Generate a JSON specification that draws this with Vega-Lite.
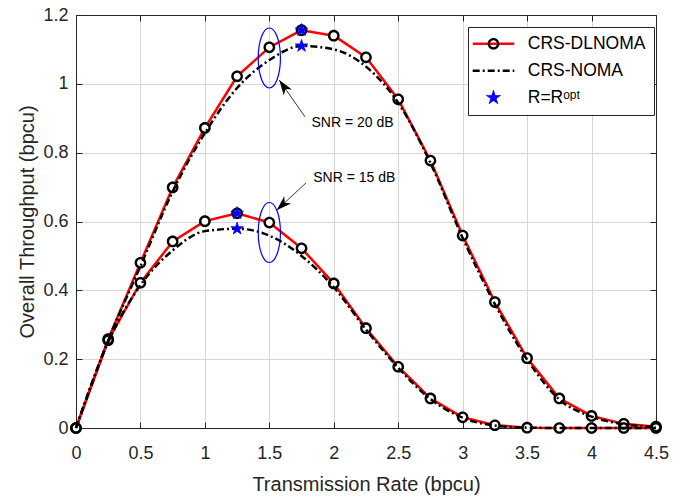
{
  "$schema": "https://vega.github.io/schema/vega-lite/v6.json",
  "width": 580,
  "height": 413,
  "autosize": {"type": "none"},
  "padding": {"left": 76, "top": 15, "right": 36, "bottom": 72},
  "background": "white",
  "datasets": {
    "curves": [
      {"snr": "20 dB", "method": "CRS-DLNOMA", "rate": 0, "thr": 0},
      {"snr": "20 dB", "method": "CRS-DLNOMA", "rate": 0.25, "thr": 0.258},
      {"snr": "20 dB", "method": "CRS-DLNOMA", "rate": 0.5, "thr": 0.48},
      {"snr": "20 dB", "method": "CRS-DLNOMA", "rate": 0.75, "thr": 0.699},
      {"snr": "20 dB", "method": "CRS-DLNOMA", "rate": 1, "thr": 0.872},
      {"snr": "20 dB", "method": "CRS-DLNOMA", "rate": 1.25, "thr": 1.022},
      {"snr": "20 dB", "method": "CRS-DLNOMA", "rate": 1.5, "thr": 1.106},
      {"snr": "20 dB", "method": "CRS-DLNOMA", "rate": 1.75, "thr": 1.156},
      {"snr": "20 dB", "method": "CRS-DLNOMA", "rate": 2, "thr": 1.14},
      {"snr": "20 dB", "method": "CRS-DLNOMA", "rate": 2.25, "thr": 1.077},
      {"snr": "20 dB", "method": "CRS-DLNOMA", "rate": 2.5, "thr": 0.955},
      {"snr": "20 dB", "method": "CRS-DLNOMA", "rate": 2.75, "thr": 0.777},
      {"snr": "20 dB", "method": "CRS-DLNOMA", "rate": 3, "thr": 0.559},
      {"snr": "20 dB", "method": "CRS-DLNOMA", "rate": 3.25, "thr": 0.366},
      {"snr": "20 dB", "method": "CRS-DLNOMA", "rate": 3.5, "thr": 0.203},
      {"snr": "20 dB", "method": "CRS-DLNOMA", "rate": 3.75, "thr": 0.086},
      {"snr": "20 dB", "method": "CRS-DLNOMA", "rate": 4, "thr": 0.035},
      {"snr": "20 dB", "method": "CRS-DLNOMA", "rate": 4.25, "thr": 0.012},
      {"snr": "20 dB", "method": "CRS-DLNOMA", "rate": 4.5, "thr": 0.004},
      {"snr": "20 dB", "method": "CRS-NOMA", "rate": 0, "thr": 0},
      {"snr": "20 dB", "method": "CRS-NOMA", "rate": 0.25, "thr": 0.255},
      {"snr": "20 dB", "method": "CRS-NOMA", "rate": 0.5, "thr": 0.47},
      {"snr": "20 dB", "method": "CRS-NOMA", "rate": 0.75, "thr": 0.687},
      {"snr": "20 dB", "method": "CRS-NOMA", "rate": 1, "thr": 0.857},
      {"snr": "20 dB", "method": "CRS-NOMA", "rate": 1.25, "thr": 0.988},
      {"snr": "20 dB", "method": "CRS-NOMA", "rate": 1.5, "thr": 1.069},
      {"snr": "20 dB", "method": "CRS-NOMA", "rate": 1.75, "thr": 1.11},
      {"snr": "20 dB", "method": "CRS-NOMA", "rate": 2, "thr": 1.1},
      {"snr": "20 dB", "method": "CRS-NOMA", "rate": 2.25, "thr": 1.05},
      {"snr": "20 dB", "method": "CRS-NOMA", "rate": 2.5, "thr": 0.945},
      {"snr": "20 dB", "method": "CRS-NOMA", "rate": 2.75, "thr": 0.77},
      {"snr": "20 dB", "method": "CRS-NOMA", "rate": 3, "thr": 0.552},
      {"snr": "20 dB", "method": "CRS-NOMA", "rate": 3.25, "thr": 0.36},
      {"snr": "20 dB", "method": "CRS-NOMA", "rate": 3.5, "thr": 0.199},
      {"snr": "20 dB", "method": "CRS-NOMA", "rate": 3.75, "thr": 0.083},
      {"snr": "20 dB", "method": "CRS-NOMA", "rate": 4, "thr": 0.033},
      {"snr": "20 dB", "method": "CRS-NOMA", "rate": 4.25, "thr": 0.011},
      {"snr": "20 dB", "method": "CRS-NOMA", "rate": 4.5, "thr": 0.003},
      {"snr": "15 dB", "method": "CRS-DLNOMA", "rate": 0, "thr": 0},
      {"snr": "15 dB", "method": "CRS-DLNOMA", "rate": 0.25, "thr": 0.255},
      {"snr": "15 dB", "method": "CRS-DLNOMA", "rate": 0.5, "thr": 0.422},
      {"snr": "15 dB", "method": "CRS-DLNOMA", "rate": 0.75, "thr": 0.542},
      {"snr": "15 dB", "method": "CRS-DLNOMA", "rate": 1, "thr": 0.601},
      {"snr": "15 dB", "method": "CRS-DLNOMA", "rate": 1.25, "thr": 0.624},
      {"snr": "15 dB", "method": "CRS-DLNOMA", "rate": 1.5, "thr": 0.597},
      {"snr": "15 dB", "method": "CRS-DLNOMA", "rate": 1.75, "thr": 0.522},
      {"snr": "15 dB", "method": "CRS-DLNOMA", "rate": 2, "thr": 0.42},
      {"snr": "15 dB", "method": "CRS-DLNOMA", "rate": 2.25, "thr": 0.29},
      {"snr": "15 dB", "method": "CRS-DLNOMA", "rate": 2.5, "thr": 0.178},
      {"snr": "15 dB", "method": "CRS-DLNOMA", "rate": 2.75, "thr": 0.086},
      {"snr": "15 dB", "method": "CRS-DLNOMA", "rate": 3, "thr": 0.031},
      {"snr": "15 dB", "method": "CRS-DLNOMA", "rate": 3.25, "thr": 0.008},
      {"snr": "15 dB", "method": "CRS-DLNOMA", "rate": 3.5, "thr": 0.001},
      {"snr": "15 dB", "method": "CRS-DLNOMA", "rate": 3.75, "thr": 0},
      {"snr": "15 dB", "method": "CRS-DLNOMA", "rate": 4, "thr": 0},
      {"snr": "15 dB", "method": "CRS-DLNOMA", "rate": 4.25, "thr": 0},
      {"snr": "15 dB", "method": "CRS-DLNOMA", "rate": 4.5, "thr": 0},
      {"snr": "15 dB", "method": "CRS-NOMA", "rate": 0, "thr": 0},
      {"snr": "15 dB", "method": "CRS-NOMA", "rate": 0.25, "thr": 0.25},
      {"snr": "15 dB", "method": "CRS-NOMA", "rate": 0.5, "thr": 0.415},
      {"snr": "15 dB", "method": "CRS-NOMA", "rate": 0.75, "thr": 0.516},
      {"snr": "15 dB", "method": "CRS-NOMA", "rate": 1, "thr": 0.572},
      {"snr": "15 dB", "method": "CRS-NOMA", "rate": 1.25, "thr": 0.579},
      {"snr": "15 dB", "method": "CRS-NOMA", "rate": 1.5, "thr": 0.559},
      {"snr": "15 dB", "method": "CRS-NOMA", "rate": 1.75, "thr": 0.5},
      {"snr": "15 dB", "method": "CRS-NOMA", "rate": 2, "thr": 0.409},
      {"snr": "15 dB", "method": "CRS-NOMA", "rate": 2.25, "thr": 0.286},
      {"snr": "15 dB", "method": "CRS-NOMA", "rate": 2.5, "thr": 0.175},
      {"snr": "15 dB", "method": "CRS-NOMA", "rate": 2.75, "thr": 0.084},
      {"snr": "15 dB", "method": "CRS-NOMA", "rate": 3, "thr": 0.03},
      {"snr": "15 dB", "method": "CRS-NOMA", "rate": 3.25, "thr": 0.007},
      {"snr": "15 dB", "method": "CRS-NOMA", "rate": 3.5, "thr": 0.001},
      {"snr": "15 dB", "method": "CRS-NOMA", "rate": 3.75, "thr": 0},
      {"snr": "15 dB", "method": "CRS-NOMA", "rate": 4, "thr": 0},
      {"snr": "15 dB", "method": "CRS-NOMA", "rate": 4.25, "thr": 0},
      {"snr": "15 dB", "method": "CRS-NOMA", "rate": 4.5, "thr": 0}
    ],
    "stars": [
      {"snr": "20 dB", "method": "R=Rᵒᵖᵗ", "rate": 1.75, "thr": 1.156},
      {"snr": "20 dB", "method": "R=Rᵒᵖᵗ", "rate": 1.75, "thr": 1.11},
      {"snr": "15 dB", "method": "R=Rᵒᵖᵗ", "rate": 1.25, "thr": 0.624},
      {"snr": "15 dB", "method": "R=Rᵒᵖᵗ", "rate": 1.25, "thr": 0.579}
    ],
    "ellipses": [
      {"snr": "20 dB", "rate": 1.5, "thr": 1.075},
      {"snr": "15 dB", "rate": 1.5, "thr": 0.568}
    ],
    "arrows": [
      {"snr": "20 dB", "rate": 1.777, "thr": 0.904, "rate2": 1.577, "thr2": 1.011},
      {"snr": "15 dB", "rate": 1.784, "thr": 0.712, "rate2": 1.557, "thr2": 0.633}
    ],
    "notes": [
      {"snr": "20 dB", "text": "SNR = 20 dB", "rate": 1.827, "thr": 0.875},
      {"snr": "15 dB", "text": "SNR = 15 dB", "rate": 1.841, "thr": 0.7156}
    ]
  },
  "encoding": {
    "x": {"field": "rate", "type": "quantitative", "scale": {"domain": [0, 4.5], "nice": false}, "axis": null},
    "y": {"field": "thr", "type": "quantitative", "scale": {"domain": [0, 1.2], "nice": false}, "axis": null}
  },
  "layer": [
    {
      "data": {"name": "curves"},
      "transform": [{"filter": "datum.method === 'CRS-DLNOMA'"}],
      "mark": {"type": "line", "strokeWidth": 2.5, "strokeJoin": "round"},
      "encoding": {
        "x": {"field": "rate", "type": "quantitative", "scale": {"domain": [0, 4.5], "nice": false},
          "axis": {"orient": "bottom", "values": [0, 0.5, 1, 1.5, 2, 2.5, 3, 3.5, 4, 4.5], "format": "~g", "title": "Transmission Rate (bpcu)", "grid": true, "tickSize": -6, "labelPadding": 22, "titlePadding": 12}},
        "y": {"field": "thr", "type": "quantitative", "scale": {"domain": [0, 1.2], "nice": false},
          "axis": {"orient": "left", "values": [0, 0.2, 0.4, 0.6, 0.8, 1, 1.2], "format": "~g", "title": "Overall Throughput (bpcu)", "grid": true, "tickSize": -6, "labelPadding": 14, "titlePadding": 5}},
        "detail": {"field": "snr"},
        "color": {
          "field": "method", "type": "nominal",
          "scale": {"domain": ["CRS-DLNOMA", "CRS-NOMA", "R=Rᵒᵖᵗ"], "range": ["#ff0000", "#000000", "#0000ff"]},
          "legend": {
            "orient": "none", "legendX": 392, "legendY": 12, "title": null,
            "padding": 8, "rowPadding": 8,
            "labelFontSize": 17.5, "labelFont": "Liberation Sans", "labelColor": "#000000",
            "labelExpr": "datum.label + '\u00a0\u00a0'",
            "symbolSize": 16, "symbolStrokeWidth": 2.5, "symbolOffset": 8.75, "labelOffset": 25.5,
            "strokeColor": "#262626", "fillColor": "#ffffff", "zindex": 1,
            "encode": {
              "symbols": {
                "update": {
                  "shape": {"signal": "(datum.value === 'CRS-DLNOMA' || datum.value === 'CRS-NOMA') ? 'M -10.4 0 L 10.4 0' : 'M 0 -3.7 L 0.831 -1.143 L 3.519 -1.143 L 1.344 0.437 L 2.175 2.993 L 0 1.413 L -2.175 2.993 L -1.344 0.437 L -3.519 -1.143 L -0.831 -1.143 Z'"},
                  "fill": {"signal": "(datum.value === 'CRS-DLNOMA' || datum.value === 'CRS-NOMA') ? 'transparent' : '#0000ff'"},
                  "stroke": {"signal": "datum.value === 'CRS-DLNOMA' ? '#ff0000' : (datum.value === 'CRS-NOMA' ? '#000000' : '#0000ff')"},
                  "strokeWidth": {"signal": "(datum.value === 'CRS-DLNOMA' || datum.value === 'CRS-NOMA') ? 2.5 : 0.8"},
                  "strokeDash": {"signal": "datum.value === 'CRS-NOMA' ? [7, 3, 2, 3] : [1, 0]"},
                  "size": {"value": 16},
                  "opacity": {"value": 1}
                }
              }
            }
          }
        }
      }
    },
    {
      "data": {"name": "curves"},
      "transform": [{"filter": "datum.method === 'CRS-DLNOMA'"}],
      "mark": {"type": "point", "shape": "circle", "filled": true, "color": "#ffffff", "size": 52, "opacity": 1}
    },
    {
      "data": {"name": "curves"},
      "transform": [{"filter": "datum.method === 'CRS-DLNOMA'"}],
      "mark": {"type": "point", "filled": true, "color": "#000000", "size": 137, "opacity": 1},
      "encoding": {
        "shape": {
          "field": "method", "type": "nominal",
          "scale": {"domain": ["CRS-DLNOMA"], "range": ["M 0 -1 C 0.5523 -1 1 -0.5523 1 0 C 1 0.5523 0.5523 1 0 1 C -0.5523 1 -1 0.5523 -1 0 C -1 -0.5523 -0.5523 -1 0 -1 Z M 0 -0.6 C -0.3314 -0.6 -0.6 -0.3314 -0.6 0 C -0.6 0.3314 -0.3314 0.6 0 0.6 C 0.3314 0.6 0.6 0.3314 0.6 0 C 0.6 -0.3314 0.3314 -0.6 0 -0.6 Z"]},
          "legend": {
            "orient": "none", "legendX": 411.5, "legendY": 22.75, "title": null,
            "padding": 0, "symbolSize": 137, "symbolStrokeWidth": 0, "symbolFillColor": "#000000",
            "labelExpr": "''", "labelFontSize": 1, "labelOffset": 0, "zindex": 2
          }
        }
      }
    },
    {
      "data": {"name": "curves"},
      "transform": [{"filter": "datum.method === 'CRS-NOMA'"}],
      "mark": {"type": "line", "strokeWidth": 2.5, "strokeDash": [7, 3, 2, 3], "interpolate": "monotone"},
      "encoding": {
        "detail": {"field": "snr"},
        "color": {"field": "method", "type": "nominal", "scale": {"domain": ["CRS-DLNOMA", "CRS-NOMA", "R=Rᵒᵖᵗ"], "range": ["#ff0000", "#000000", "#0000ff"]}}
      }
    },
    {
      "data": {"name": "stars"},
      "mark": {"type": "point", "filled": true, "opacity": 1, "size": 12.7, "strokeWidth": 0.8, "shape": "M 0 -3.7 L 0.831 -1.143 L 3.519 -1.143 L 1.344 0.437 L 2.175 2.993 L 0 1.413 L -2.175 2.993 L -1.344 0.437 L -3.519 -1.143 L -0.831 -1.143 Z"},
      "encoding": {
        "color": {"field": "method", "type": "nominal", "scale": {"domain": ["CRS-DLNOMA", "CRS-NOMA", "R=Rᵒᵖᵗ"], "range": ["#ff0000", "#000000", "#0000ff"]}},
        "stroke": {"value": "#0000ff"}
      }
    },
    {
      "data": {"name": "ellipses"},
      "mark": {"type": "point", "filled": false, "stroke": "#0000ff", "strokeWidth": 1.2, "opacity": 1, "size": 3600,
        "shape": "M 0 -1 C 0.2044 -1 0.37 -0.5523 0.37 0 C 0.37 0.5523 0.2044 1 0 1 C -0.2044 1 -0.37 0.5523 -0.37 0 C -0.37 -0.5523 -0.2044 -1 0 -1 Z"}
    },
    {
      "data": {"name": "arrows"},
      "mark": {"type": "rule", "stroke": "#000000", "strokeWidth": 0.8},
      "encoding": {
        "x2": {"field": "rate2"},
        "y2": {"field": "thr2"}
      }
    },
    {
      "data": {"name": "arrows"},
      "transform": [{"filter": "datum.snr === '20 dB'"}],
      "mark": {"type": "point", "filled": true, "fill": "#000000", "stroke": null, "opacity": 1, "size": 4, "angle": 325, "shape": "M 0 0 L 5 15 L 0 11 L -5 15 Z"},
      "encoding": {
        "x": {"field": "rate2", "type": "quantitative", "axis": null},
        "y": {"field": "thr2", "type": "quantitative", "axis": null}
      }
    },
    {
      "data": {"name": "arrows"},
      "transform": [{"filter": "datum.snr === '15 dB'"}],
      "mark": {"type": "point", "filled": true, "fill": "#000000", "stroke": null, "opacity": 1, "size": 4, "angle": 227, "shape": "M 0 0 L 5 15 L 0 11 L -5 15 Z"},
      "encoding": {
        "x": {"field": "rate2", "type": "quantitative", "axis": null},
        "y": {"field": "thr2", "type": "quantitative", "axis": null}
      }
    },
    {
      "data": {"name": "notes"},
      "mark": {"type": "text", "align": "left", "baseline": "alphabetic", "fontSize": 14, "font": "Liberation Sans", "color": "#000000"},
      "encoding": {
        "text": {"field": "text"},
        "x": {"field": "rate", "type": "quantitative", "scale": {"domain": [0, 4.5], "nice": false},
          "axis": {"orient": "top", "values": [0, 0.5, 1, 1.5, 2, 2.5, 3, 3.5, 4, 4.5], "labels": false, "title": null, "grid": false, "tickSize": -6}},
        "y": {"field": "thr", "type": "quantitative", "scale": {"domain": [0, 1.2], "nice": false},
          "axis": {"orient": "right", "values": [0, 0.2, 0.4, 0.6, 0.8, 1, 1.2], "labels": false, "title": null, "grid": false, "tickSize": -6}}
      }
    }
  ],
  "config": {
    "view": {"stroke": null},
    "font": "Liberation Sans",
    "axis": {
      "domainColor": "#262626", "domainWidth": 1, "tickColor": "#262626", "tickWidth": 1,
      "labelFont": "Liberation Sans", "labelFontSize": 18, "labelColor": "#262626", "labelFlush": false, "labelOverlap": false,
      "titleFont": "Liberation Sans", "titleFontSize": 20, "titleFontWeight": "normal", "titleColor": "#262626",
      "gridColor": "#d6d6d6", "gridWidth": 1, "gridOpacity": 1
    }
  }
}
